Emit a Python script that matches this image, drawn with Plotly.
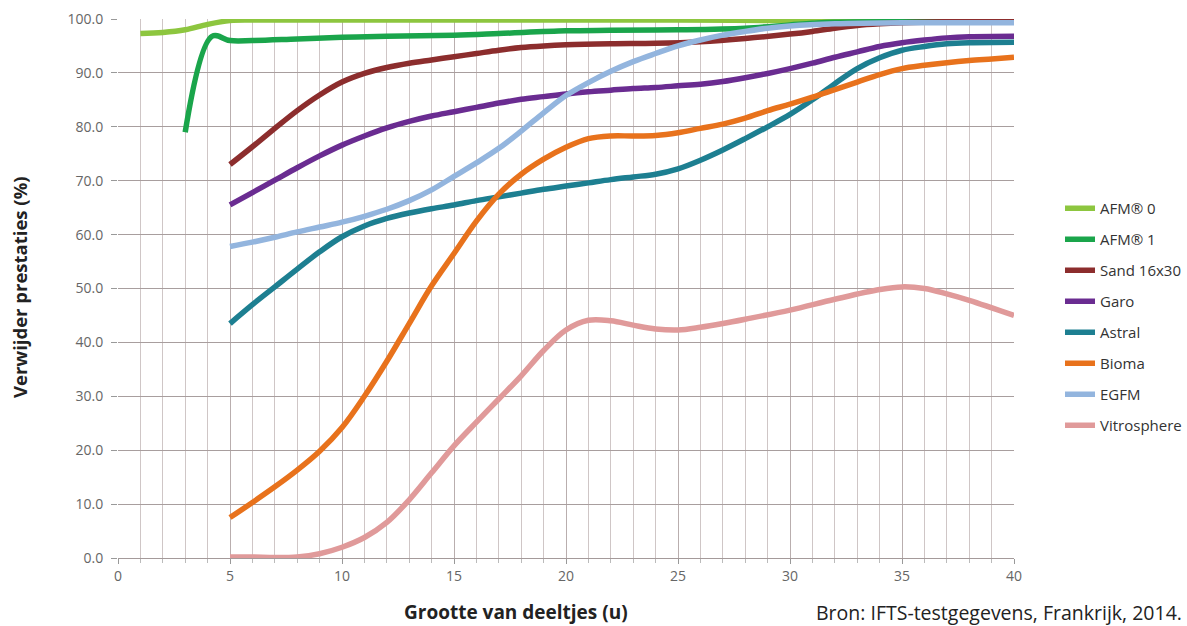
import plotly.graph_objects as go

# ---- data ----
afm0_x = [1, 2, 3, 4, 5, 6, 10, 15, 20, 25, 30, 35, 40]
afm0_y = [97.3, 97.5, 98.0, 99.0, 99.7, 99.8, 99.8, 99.8, 99.8, 99.8, 99.7, 99.7, 99.6]

afm1_x = [3, 4.2, 5, 6, 8, 10, 12, 15, 17, 20, 22, 25, 28, 30, 31, 32, 35, 40]
afm1_y = [79.0, 96.8, 96.0, 96.0, 96.3, 96.6, 96.8, 97.0, 97.3, 97.8, 97.9, 98.0, 98.3, 98.9, 99.2, 99.4, 99.5, 99.5]

sand_x = [5, 6, 7, 8, 9, 10, 11, 12, 13, 14, 15, 16, 17, 18, 19, 20, 22, 24, 26, 28, 30, 31, 32, 33, 34, 35, 37, 40]
sand_y = [73.0, 76.3, 79.7, 83.0, 85.9, 88.3, 89.9, 91.0, 91.8, 92.4, 93.0, 93.6, 94.2, 94.7, 95.0, 95.2, 95.4, 95.5,
          95.8, 96.4, 97.2, 97.7, 98.3, 98.8, 99.1, 99.3, 99.5, 99.6]

garo_x = [5, 6, 7, 8, 9, 10, 11, 12, 13, 14, 15, 16, 17, 18, 19, 20, 21, 22, 23, 24, 25, 26, 27, 28, 29, 30,
          31, 32, 33, 34, 35, 36, 37, 38, 40]
garo_y = [65.5, 67.8, 70.1, 72.4, 74.6, 76.6, 78.3, 79.8, 81.0, 82.0, 82.8, 83.6, 84.4, 85.1, 85.6, 86.1, 86.5,
          86.8, 87.1, 87.3, 87.6, 87.9, 88.4, 89.1, 89.9, 90.8, 91.8, 92.9, 93.9, 94.9, 95.6, 96.1, 96.5, 96.7, 96.8]

astral_x = [5, 6, 7, 8, 9, 10, 11, 12, 13, 14, 15, 16, 17, 18, 19, 20, 21, 22, 23, 24, 25, 26, 27, 28, 29, 30,
            31, 32, 33, 34, 35, 36, 37, 38, 40]
astral_y = [43.5, 47.0, 50.3, 53.6, 56.8, 59.6, 61.6, 63.0, 64.0, 64.8, 65.5, 66.3, 67.0, 67.7, 68.4, 69.0, 69.6,
            70.2, 70.7, 71.2, 72.2, 73.8, 75.7, 77.8, 80.0, 82.3, 85.0, 88.0, 90.8, 92.8, 94.2, 94.9, 95.4, 95.6, 95.7]

bioma_x = [5, 6, 7, 8, 9, 10, 11, 12, 13, 14, 15, 16, 17, 18, 19, 20, 21, 22, 23, 24, 25, 26, 27, 28, 29, 30,
           31, 32, 33, 34, 35, 36, 37, 38, 39, 40]
bioma_y = [7.5, 10.3, 13.2, 16.3, 19.8, 24.2, 30.0, 36.5, 43.5, 50.5, 56.5, 62.5, 67.5, 71.2, 74.0, 76.2, 77.8,
           78.3, 78.3, 78.4, 78.9, 79.7, 80.5, 81.6, 83.0, 84.2, 85.5, 86.9, 88.3, 89.7, 90.8, 91.4, 91.9, 92.3,
           92.6, 92.9]

egfm_x = [5, 6, 7, 8, 9, 10, 11, 12, 13, 14, 15, 16, 17, 18, 19, 20, 21, 22, 23, 24, 25, 26, 27, 28, 29, 30,
          32, 35, 40]
egfm_y = [57.8, 58.6, 59.5, 60.5, 61.4, 62.3, 63.4, 64.7, 66.3, 68.3, 70.8, 73.3, 76.0, 79.2, 82.6, 85.8, 88.2,
          90.3, 92.1, 93.6, 95.0, 96.1, 97.0, 97.7, 98.3, 98.7, 99.1, 99.3, 99.3]

vitro_x = [5, 6, 7, 8, 9, 10, 11, 12, 13, 14, 15, 16, 17, 18, 19, 20, 21, 22, 23, 24, 25, 26, 27, 28, 30, 32,
           34, 35, 36, 37, 38, 40]
vitro_y = [0.2, 0.2, 0.1, 0.2, 0.8, 2.0, 3.8, 6.6, 10.8, 15.8, 20.8, 25.2, 29.5, 33.8, 38.5, 42.3, 44.1, 44.0,
           43.2, 42.5, 42.3, 42.8, 43.5, 44.3, 46.0, 48.0, 49.8, 50.3, 50.0, 49.0, 47.8, 45.0]

series_names = ["AFM® 0", "AFM® 1", "Sand 16x30", "Garo", "Astral", "Bioma", "EGFM", "Vitrosphere"]
series_colors = ["#8dc63f", "#1aa54b", "#8c2d2d", "#6a2c91", "#1d7f91", "#e8721c", "#93b5de", "#e09a9a"]
series_xy = [(afm0_x, afm0_y), (afm1_x, afm1_y), (sand_x, sand_y), (garo_x, garo_y),
             (astral_x, astral_y), (bioma_x, bioma_y), (egfm_x, egfm_y), (vitro_x, vitro_y)]

x_ticks = [0, 5, 10, 15, 20, 25, 30, 35, 40]
y_ticks = [0, 10, 20, 30, 40, 50, 60, 70, 80, 90, 100]

# page geometry (body margin removed by the post script, so figure == page)
W, H = 1187, 626
L, R, T, B = 118, 1014, 19, 558   # plot area in page pixels


def px_x(p):
    return (p - L) / (R - L)


def px_y(p):
    return (B - p) / (B - T)


fig = go.Figure()
for name, color, (xs, ys) in zip(series_names, series_colors, series_xy):
    fig.add_trace(go.Scatter(
        x=xs, y=ys, name=name, mode="lines",
        line=dict(color=color, width=5.5, shape="spline", smoothing=1.0),
        legendgroup=name, hoverinfo="skip"))

FONT = "Open Sans"
fig.update_layout(
    width=W, height=H,
    margin=dict(l=L, r=W - R, t=T, b=H - B, autoexpand=False),
    paper_bgcolor="white", plot_bgcolor="white",
    font=dict(family=FONT, color="#555"),
    showlegend=True,
    legend=dict(x=px_x(1060), y=px_y(192), xanchor="left", yanchor="top",
                font=dict(size=15, color="#333", family=FONT),
                tracegroupgap=8.5, bgcolor="rgba(0,0,0,0)", itemwidth=30),
    xaxis=dict(range=[0, 40], tickvals=x_ticks, ticktext=[str(v) for v in x_ticks],
               showgrid=True, gridcolor="#b9aeae", gridwidth=1, automargin=False,
               ticks="outside", ticklen=5, tickcolor="#999",
               tickfont=dict(size=14, color="#666", family=FONT),
               minor=dict(dtick=1, tick0=0, showgrid=True, gridcolor="#cfc6c6",
                          gridwidth=1, ticks="outside", ticklen=4, tickcolor="#bbb"),
               showline=True, linecolor="#a49a9a", linewidth=1,
               zeroline=False, fixedrange=True),
    yaxis=dict(range=[0, 100], tickvals=y_ticks, tickformat=".1f",
               showgrid=True, gridcolor="#a89e9e", gridwidth=1, automargin=False,
               ticks="outside", ticklen=6, tickcolor="#999", ticklabelstandoff=5,
               tickfont=dict(size=14, color="#666", family=FONT),
               showline=False, zeroline=False, fixedrange=True),
    annotations=[
        dict(text="<b>Verwijder prestaties (%)</b>", textangle=-90,
             xref="paper", yref="paper", x=px_x(19), y=px_y(287),
             xanchor="center", yanchor="middle", showarrow=False,
             font=dict(size=18.5, color="#222", family=FONT)),
        dict(text="<b>Grootte van deeltjes (u)</b>",
             xref="paper", yref="paper", x=px_x(516), y=px_y(612),
             xanchor="center", yanchor="middle", showarrow=False,
             font=dict(size=19, color="#222", family=FONT)),
        dict(text="Bron: IFTS-testgegevens, Frankrijk, 2014.",
             xref="paper", yref="paper", x=px_x(1184), y=px_y(612),
             xanchor="right", yanchor="middle", showarrow=False,
             font=dict(size=19.5, color="#222", family=FONT)),
    ],
)

fig.write_html("out.html", config={"displayModeBar": False},
               post_script="document.body.style.margin='0';document.body.style.overflow='hidden';")
